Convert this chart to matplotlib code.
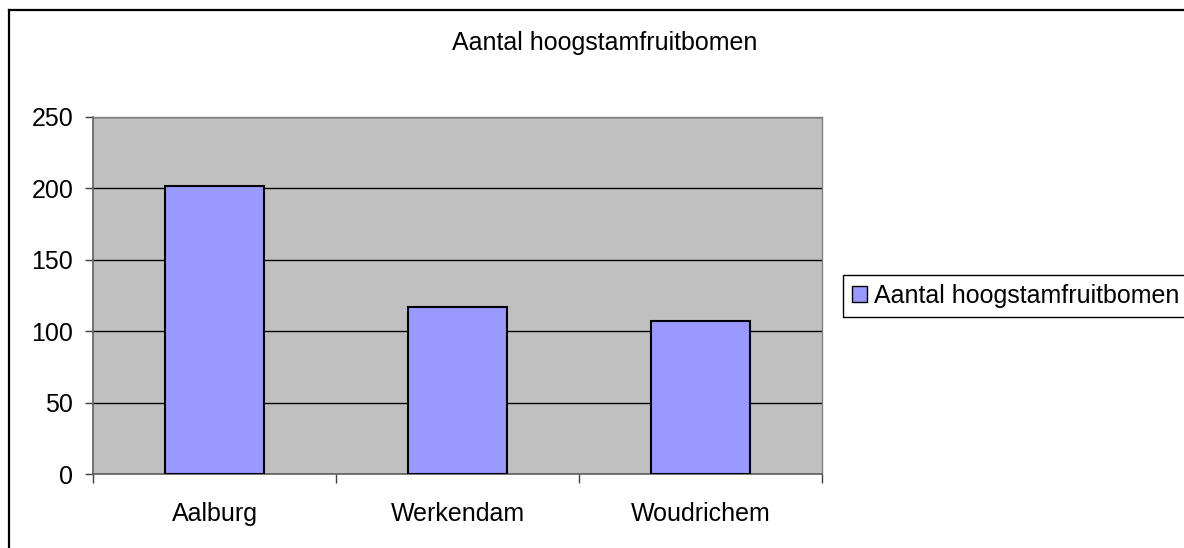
import matplotlib.pyplot as plt
from matplotlib.patches import Patch
from matplotlib.lines import Line2D
import numpy as np

plt.rcParams['font.family'] = ['Liberation Sans', 'DejaVu Sans']
plt.rcParams['font.size'] = 18

# data
categories = ['Aalburg', 'Werkendam', 'Woudrichem']
values = [202, 117, 107]
series_name = 'Aantal hoogstamfruitbomen'
y_ticks = [0, 50, 100, 150, 200, 250]

W, H = 1184, 548
fig = plt.figure(figsize=(W / 100, H / 100), dpi=100)
fig.patch.set_facecolor('white')

# outer chart frame (runs off the right and bottom edges)
fig.add_artist(Line2D([9 / W, 1.0], [1 - 10 / H, 1 - 10 / H], color='black',
                      linewidth=1.6, transform=fig.transFigure))
fig.add_artist(Line2D([9 / W, 9 / W], [1 - 10 / H, 0.0], color='black',
                      linewidth=1.6, transform=fig.transFigure))

ax = fig.add_axes([93 / W, 74 / H, 729 / W, 357 / H])
ax.set_facecolor('#C0C0C0')

x = np.arange(len(categories))
ax.bar(x, values, width=0.41, color='#9999FF', edgecolor='black',
       linewidth=1.5, zorder=3)

ax.set_xlim(-0.5, len(categories) - 0.5)
ax.set_ylim(0, 250)
ax.set_yticks(y_ticks)
ax.set_yticklabels([str(v) for v in y_ticks])

ax.set_xticks(x)
ax.set_xticklabels(categories)
ax.set_xticks(np.arange(-0.5, len(categories), 1.0), minor=True)
ax.tick_params(axis='x', which='major', length=0, pad=20)
ax.tick_params(axis='x', which='minor', length=6.5, width=1, color='#404040',
               direction='out')
ax.tick_params(axis='y', length=5.8, width=1, color='#404040', pad=8.5)

ax.yaxis.grid(True, color='black', linewidth=1, zorder=1)
ax.set_axisbelow(True)

for side in ['top', 'right']:
    ax.spines[side].set_color('#808080')
    ax.spines[side].set_linewidth(1)
for side in ['left', 'bottom']:
    ax.spines[side].set_color('#606060')
    ax.spines[side].set_linewidth(1.2)

fig.text(605 / W, 1 - 43 / H, series_name, ha='center', va='center',
         fontsize=18)

handle = Patch(facecolor='#9999FF', edgecolor='black', linewidth=1)
leg = fig.legend([handle], [series_name], loc='center left',
                 bbox_to_anchor=(843 / W, 1 - 296 / H),
                 bbox_transform=fig.transFigure,
                 frameon=True, fancybox=False, edgecolor='black',
                 framealpha=1, handlelength=0.6, handleheight=0.6,
                 handletextpad=0.3, borderpad=0.35, borderaxespad=0,
                 fontsize=18)
leg.get_frame().set_linewidth(1)

fig.savefig('out.png', dpi=100, facecolor='white')
